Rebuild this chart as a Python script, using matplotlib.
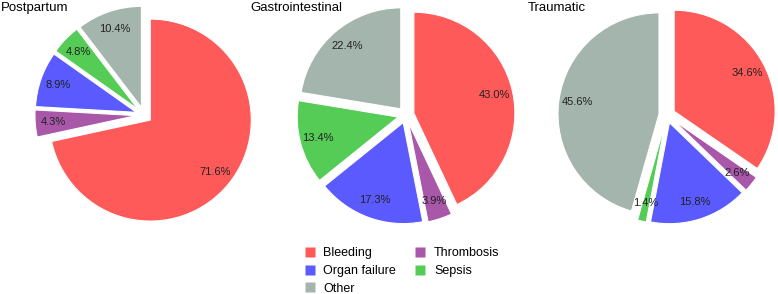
import numpy as np
import matplotlib.pyplot as plt
from matplotlib.lines import Line2D

plt.rcParams["font.family"] = ["Liberation Sans", "DejaVu Sans"]

causes = ["Bleeding", "Thrombosis", "Organ failure", "Sepsis", "Other"]
colors = ["#FF5A5A", "#A957A9", "#5A5AFF", "#55CC55", "#A3B5AD"]

titles = ["Postpartum", "Gastrointestinal", "Traumatic"]
postpartum = [71.6, 4.3, 8.9, 4.8, 10.4]
gastro = [43.0, 3.9, 17.3, 13.4, 22.4]
traumatic = [34.6, 2.6, 15.8, 1.4, 45.6]
groups = [postpartum, gastro, traumatic]

W, H = 778, 294
fig = plt.figure(figsize=(W / 100, H / 100), dpi=100)

radius_px = 101
lim = 1.25
centers = [(144, 115), (406, 115), (667, 115)]
title_x = [1, 250, 528]

for vals, title, (cx, cy), tx in zip(groups, titles, centers, title_x):
    half = lim * radius_px
    ax = fig.add_axes([(cx - half) / W, (H - cy - half) / H, 2 * half / W, 2 * half / H])
    ax.pie(
        vals,
        colors=colors,
        startangle=90,
        counterclock=False,
        explode=[0.08] * len(vals),
        autopct="%.1f%%",
        pctdistance=0.82,
        textprops=dict(fontsize=8, color="#222222"),
        wedgeprops=dict(edgecolor="white", linewidth=0.8),
    )
    ax.set_xlim(-lim, lim)
    ax.set_ylim(-lim, lim)
    ax.set_aspect("equal")
    ax.axis("off")
    fig.text(tx / W, 1 - 2 / H, title, ha="left", va="top", fontsize=9.5)

handles = [
    Line2D([], [], marker="s", linestyle="none", markersize=7,
           markerfacecolor=colors[i], markeredgecolor="none")
    for i in [0, 2, 4, 1, 3]
]
labels = [causes[i] for i in [0, 2, 4, 1, 3]]
fig.legend(
    handles, labels,
    loc="upper left",
    bbox_to_anchor=(297 / W, 1 - 241 / H),
    ncol=2,
    frameon=False,
    fontsize=9,
    handlelength=1.0,
    handletextpad=0.6,
    columnspacing=1.45,
    labelspacing=0.45,
    borderpad=0,
)

fig.savefig("out.png", dpi=100)
